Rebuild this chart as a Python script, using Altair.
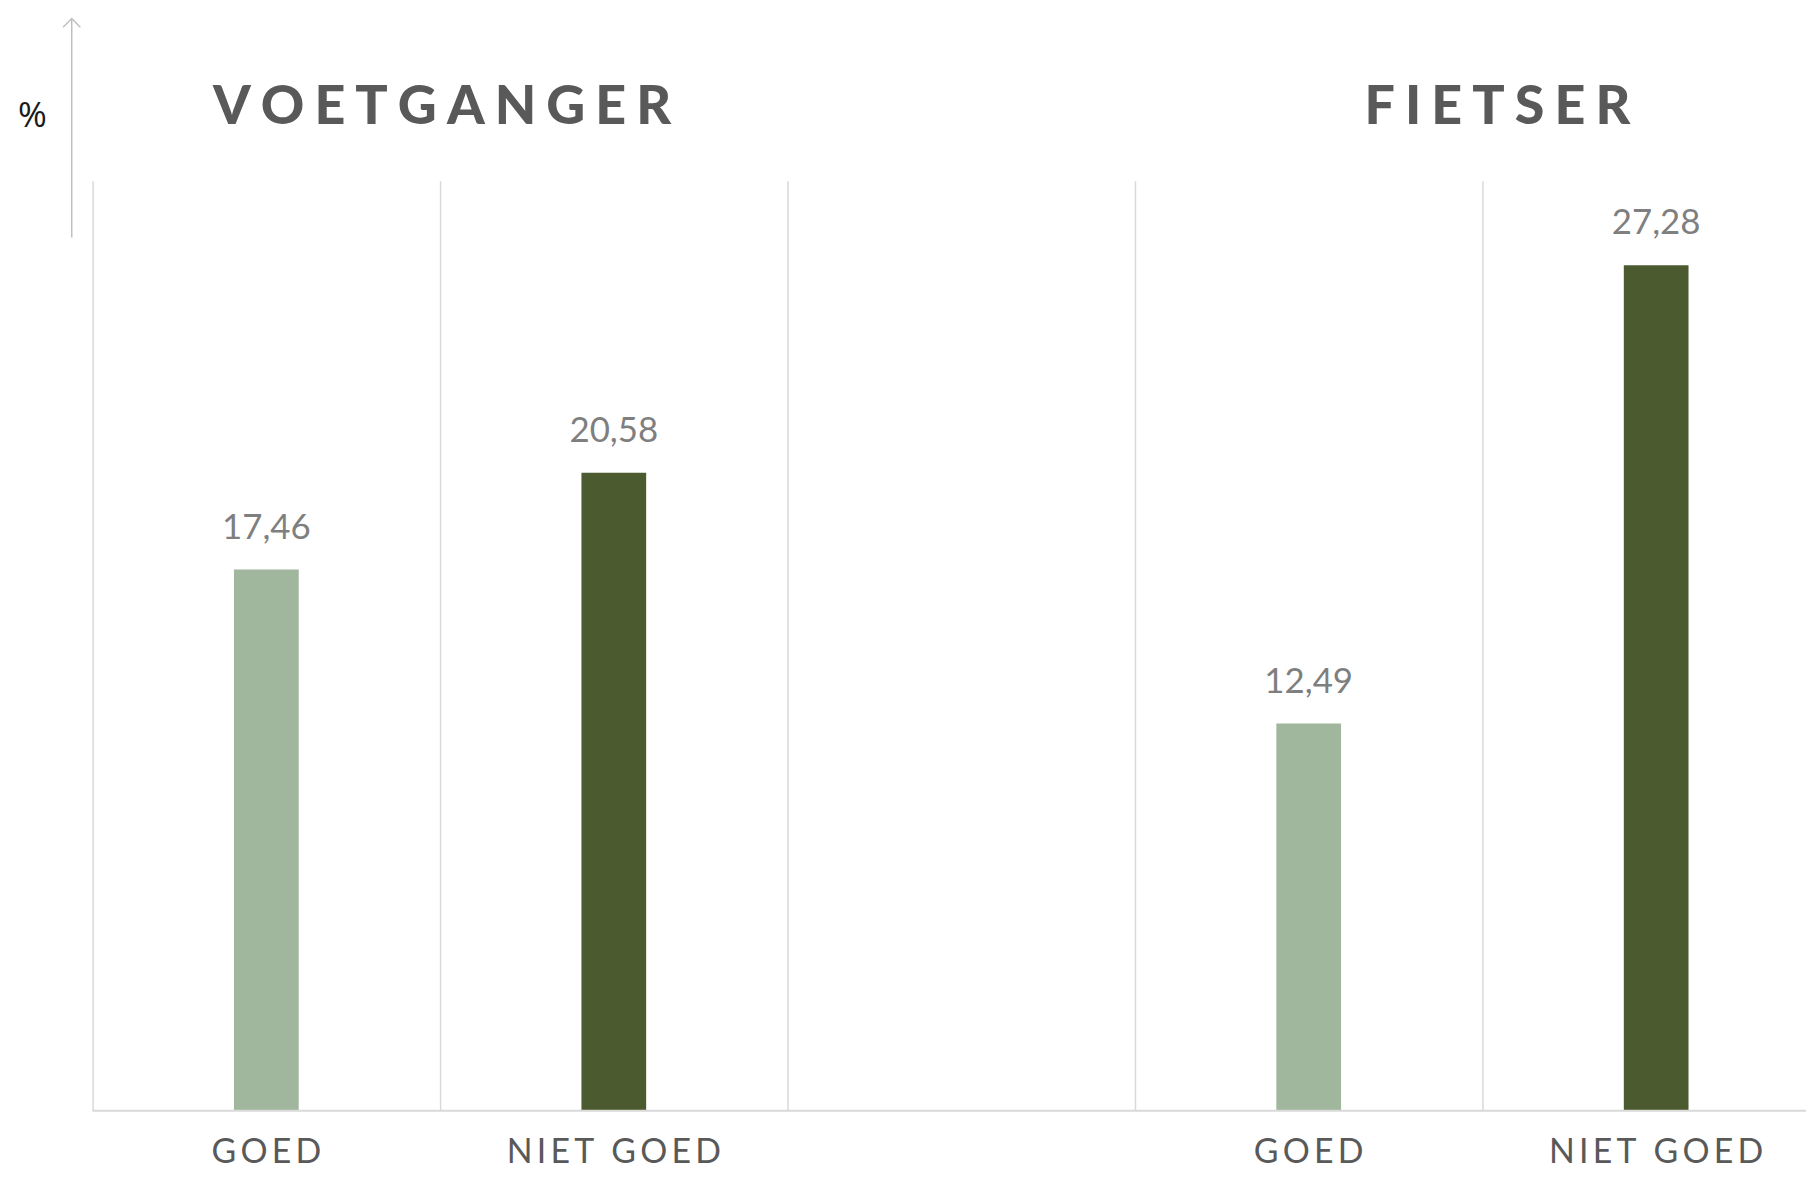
import altair as alt
import pandas as pd

# ---- data ----
keys = ["v_goed", "v_niet", "gap", "f_goed", "f_niet"]
axis_labels = ["GOED", "NIET GOED", "", "GOED", "NIET GOED"]
bar_keys = ["v_goed", "v_niet", "f_goed", "f_niet"]
values = [17.46, 20.58, 12.49, 27.28]
bar_colors = ["#A1B79D", "#4C5B2F", "#A1B79D", "#4C5B2F"]
title_texts = ["VOETGANGER", "FIETSER"]
title_keys = ["v_niet", "f_niet"]  # titles centred near the left edge of these bands
title_dx = [2, 15]  # small horizontal nudges (style)


def spaced(s, sep="\u200a\u200a"):
    return sep.join(s)


bars_df = pd.DataFrame({"key": bar_keys, "value": values})
one_df = pd.DataFrame({"a": [0]})

label_expr = ""
for k, lab in zip(keys, axis_labels):
    label_expr += f"datum.value === '{k}' ? '{spaced(lab)}' : "
label_expr += "''"

GRID = "#D9D9D9"

x_scale = alt.Scale(domain=keys, range=[0, 1745], paddingInner=0, paddingOuter=0)
y_scale = alt.Scale(domain=[0, 30], nice=False, zero=True)

x_axis = alt.Axis(
    title=None, grid=True, gridColor=GRID, gridWidth=1.5, bandPosition=0,
    ticks=False, domain=False,
    labelExpr=label_expr, labelFont="Lato", labelFontSize=34, labelColor="#595959",
    labelBaseline="alphabetic", labelPadding=52, labelAngle=0, labelLimit=0,
    labelOverlap=False,
)
y_axis = alt.Axis(
    title="%", labels=False, ticks=False, domain=False, grid=False,
    titleAngle=0, titleX=-61, titleY=-55, titleAlign="center",
    titleBaseline="alphabetic", titleFont="Open Sans", titleFontSize=35,
    titleFontWeight="normal", titleColor="#1a1a1a",
)

bars = alt.Chart(bars_df).mark_bar(size=65).encode(
    x=alt.X("key:N", scale=x_scale, axis=x_axis, sort=keys),
    y=alt.Y("value:Q", scale=y_scale, axis=y_axis),
    color=alt.Color("key:N", scale=alt.Scale(domain=bar_keys, range=bar_colors), legend=None),
)

baseline = alt.Chart(one_df).mark_rule(color=GRID, strokeWidth=2).encode(
    x=alt.value(0), x2=alt.value(1745), y=alt.value(934)
)

labels = alt.Chart(bars_df).transform_calculate(
    txt="replace(format(datum.value, '.2f'), '.', ',')"
).mark_text(
    font="Lato", fontSize=35, color="#7F7F7F", baseline="alphabetic", dy=-31
).encode(
    x=alt.X("key:N", scale=x_scale, sort=keys),
    y=alt.Y("value:Q", scale=y_scale),
    text="txt:N",
)

title_layers = []
for t, k, dx in zip(title_texts, title_keys, title_dx):
    tdf = pd.DataFrame({"key": [k], "title": [spaced(t, "\u2009\u200a")]})
    title_layers.append(
        alt.Chart(tdf).mark_text(
            font="Lato", fontSize=54, fontWeight=900, color="#595959",
            baseline="alphabetic", align="center", dx=dx,
        ).encode(
            x=alt.X("key:N", scale=x_scale, sort=keys, bandPosition=0),
            y=alt.value(-57),
            text="title:N",
        )
    )

arrow_line = alt.Chart(one_df).mark_rule(color="#BFBFBF", strokeWidth=1.5).encode(
    x=alt.value(-21), y=alt.value(-163), y2=alt.value(57)
)
arrow_head = alt.Chart(one_df).mark_point(
    shape="M-1,1L0,0L1,1", filled=False, size=300, color="#BFBFBF", strokeWidth=1.5, opacity=1
).encode(x=alt.value(-21), y=alt.value(-163))

chart = alt.layer(bars, baseline, labels, *title_layers, arrow_line, arrow_head).properties(
    width=1721, height=934,
    autosize=alt.AutoSizeParams(type="none"),
    padding={"left": 85, "top": 171, "right": 0, "bottom": 59},
).configure_view(stroke=None)

chart.save("out.html", embed_options={"renderer": "svg", "actions": False})
